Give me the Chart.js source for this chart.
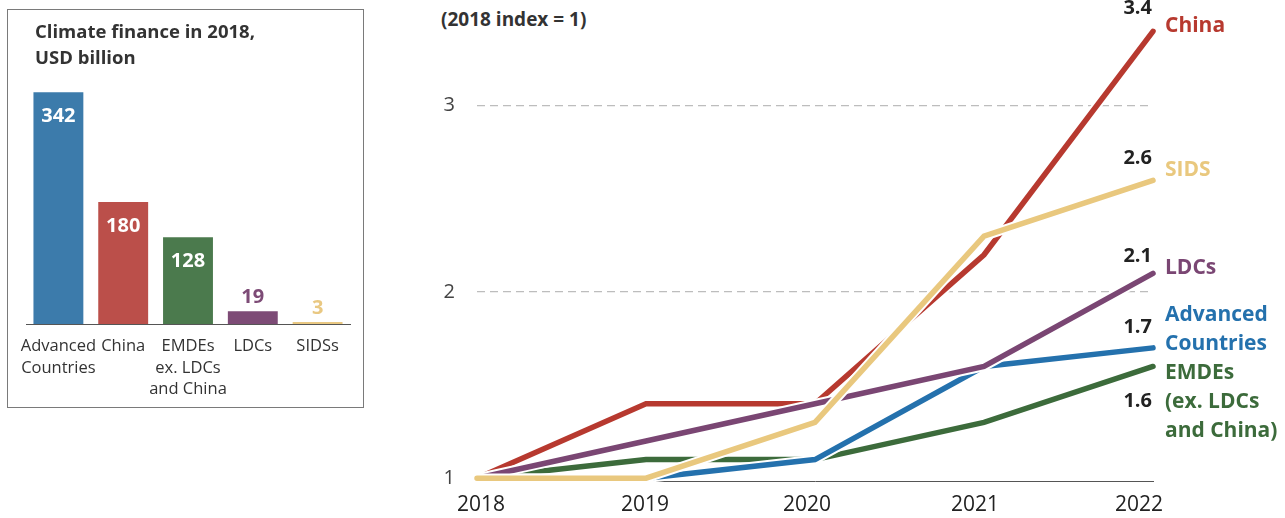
<!DOCTYPE html>
<html lang="en">
<head>
<meta charset="UTF-8">
<title>Climate finance growth</title>
<script src="https://cdn.jsdelivr.net/npm/chart.js"></script>
<style>
    body {
        margin: 0;
        width: 1285px;
        height: 518px;
        background: #fff;
        font-family: "Open Sans", sans-serif;
        position: relative;
        overflow: hidden;
    }
    .bar-box {
        position: absolute;
        left: 7px;
        top: 9px;
        width: 355px;
        height: 397px;
        border: 1px solid #7a7a7a;
    }
    .bar-title {
        position: absolute;
        left: 27px;
        top: 8px;
        font-weight: 700;
        font-size: 18.5px;
        line-height: 26px;
        color: #333;
    }
    .line-note {
        position: absolute;
        left: 441px;
        top: 6px;
        font-weight: 700;
        font-size: 19px;
        color: #333;
    }
    #barChart { position: absolute; left: 0; top: 0; }
    #lineChart { position: absolute; left: 420px; top: 0; }
</style>
</head>
<body>

<div class="bar-box">
    <canvas id="barChart" width="355" height="397"></canvas>
    <div class="bar-title">Climate finance in 2018,<br>USD billion</div>
</div>

<div class="line-note">(2018 index = 1)</div>
<canvas id="lineChart" width="865" height="518"></canvas>

<script>
// 2018 levels (USD billion)
const groups = [['Advanced', 'Countries'], 'China', ['EMDEs', 'ex. LDCs', 'and China'], 'LDCs', 'SIDSs'];
const finance2018 = [342, 180, 128, 19, 3];
const barColors = ['#3c7bab', '#bb4f4a', '#4b7a4d', '#7d4b76', '#e9c882'];

// growth index, 2018 = 1
const years = ['2018', '2019', '2020', '2021', '2022'];
const china = [1, 1.4, 1.4, 2.2, 3.4];
const sids = [1, 1, 1.3, 2.3, 2.6];
const ldcs = [1, 1.2, 1.4, 1.6, 2.1];
const advanced = [1, 1, 1.1, 1.6, 1.7];
const emdes = [1, 1.1, 1.1, 1.3, 1.6];
const yTicks = [1, 2, 3];

// year labels sit slightly tighter than the data points
const yearNudge = [4, -1, -8, -9, -14];

// series drawn top to bottom
const series = [
    { name: ['SIDS'], data: sids, color: '#e9c87e', valueDy: -22, nameDy: [-10] },
    { name: ['LDCs'], data: ldcs, color: '#7a4673', valueDy: -17, nameDy: [-5] },
    { name: ['Advanced', 'Countries'], data: advanced, color: '#2471ad', valueDy: -21, nameDy: [-33, -4] },
    { name: ['EMDEs', '(ex. LDCs', 'and China)'], data: emdes, color: '#3c6b3b', valueDy: 35, nameDy: [7, 36, 65] },
    { name: ['China'], data: china, color: '#b7392f', valueDy: -23, nameDy: [-5] }
];

// ---- bar chart ----
const barLabels = {
    id: 'barLabels',
    afterDatasetsDraw(chart) {
        const ctx = chart.ctx;
        const meta = chart.getDatasetMeta(0);
        ctx.save();
        ctx.font = '700 20px "Open Sans"';
        ctx.textAlign = 'center';
        ctx.textBaseline = 'middle';
        meta.data.forEach((bar, i) => {
            const v = finance2018[i];
            if (v >= 100) {
                ctx.fillStyle = '#fff';
                ctx.fillText(v, bar.x, bar.y + 24);
            } else {
                ctx.fillStyle = barColors[i];
                ctx.fillText(v, bar.x, bar.y - 14);
            }
        });
        ctx.restore();
    }
};

new Chart(document.getElementById('barChart'), {
    type: 'bar',
    data: {
        labels: groups,
        datasets: [{
            data: finance2018,
            backgroundColor: barColors,
            borderWidth: 0,
            categoryPercentage: 1,
            barPercentage: 0.77
        }]
    },
    options: {
        responsive: false,
        animation: false,
        layout: { padding: { top: 43, left: 18, right: 13, bottom: 0 } },
        plugins: { legend: { display: false }, tooltip: { enabled: false } },
        scales: {
            x: {
                grid: { display: false },
                border: { display: true, color: '#555', width: 1 },
                ticks: {
                    color: '#333',
                    font: { family: 'Open Sans', size: 16.5, lineHeight: 1.3 },
                    padding: 4,
                    maxRotation: 0,
                    autoSkip: false
                },
                afterFit(scale) { scale.height = 83; }
            },
            y: { display: false, min: 0, max: 400 }
        }
    },
    plugins: [barLabels]
});

// ---- line chart ----
const lineDatasets = [];
series.forEach((s, i) => {
    lineDatasets.push({
        data: s.data,
        borderColor: s.color,
        borderWidth: 5.5,
        borderCapStyle: 'round',
        pointRadius: 0,
        clip: false,
        order: i * 2
    });
    // white halo under each line
    lineDatasets.push({
        data: s.data,
        borderColor: '#fff',
        borderWidth: 9.5,
        borderCapStyle: 'round',
        pointRadius: 0,
        clip: false,
        order: i * 2 + 1
    });
});

const endLabels = {
    id: 'endLabels',
    afterDatasetsDraw(chart) {
        const ctx = chart.ctx;
        ctx.save();
        ctx.textBaseline = 'middle';
        series.forEach((s, i) => {
            const pts = chart.getDatasetMeta(i * 2).data;
            const last = pts[pts.length - 1];
            ctx.font = '700 20px "Open Sans"';
            ctx.fillStyle = '#222';
            ctx.textAlign = 'right';
            ctx.fillText(s.data[s.data.length - 1].toFixed(1), last.x - 1, last.y + s.valueDy);
            ctx.font = '700 21px "Open Sans"';
            ctx.fillStyle = s.color;
            ctx.textAlign = 'left';
            s.name.forEach((line, k) => ctx.fillText(line, last.x + 12, last.y + s.nameDy[k]));
        });

        // year labels under the axis
        const xs = chart.scales.x;
        ctx.font = '21px "Open Sans"';
        ctx.fillStyle = '#222';
        ctx.textAlign = 'center';
        years.forEach((y, i) => {
            ctx.fillText(y, xs.getPixelForValue(i) + yearNudge[i], chart.chartArea.bottom + 24);
        });
        ctx.restore();
    }
};

new Chart(document.getElementById('lineChart'), {
    type: 'line',
    data: { labels: years, datasets: lineDatasets },
    options: {
        responsive: false,
        animation: false,
        layout: { padding: { top: 22, right: 132, left: 0, bottom: 0 } },
        plugins: { legend: { display: false }, tooltip: { enabled: false } },
        scales: {
            x: {
                offset: false,
                grid: { display: false },
                border: { display: true, color: '#555', width: 1 },
                ticks: { display: false },
                afterFit(scale) { scale.height = 37; }
            },
            y: {
                min: 0.985,
                max: 3.45,
                afterBuildTicks(scale) { scale.ticks = yTicks.map(v => ({ value: v })); },
                grid: {
                    drawTicks: false,
                    color: ctx => ctx.tick && ctx.tick.value === 1 ? 'rgba(0,0,0,0)' : '#bdbdbd',
                    lineWidth: 1.2
                },
                border: { display: false, dash: [8, 5] },
                ticks: {
                    color: '#444',
                    font: { family: 'Open Sans', size: 20 },
                    padding: 22
                },
                afterFit(scale) {
                    scale.width = 57;
                    // label padding would otherwise push the plot area down
                    scale.paddingTop = 0;
                    scale.paddingBottom = 0;
                }
            }
        }
    },
    plugins: [endLabels]
});
</script>
</body>
</html>
